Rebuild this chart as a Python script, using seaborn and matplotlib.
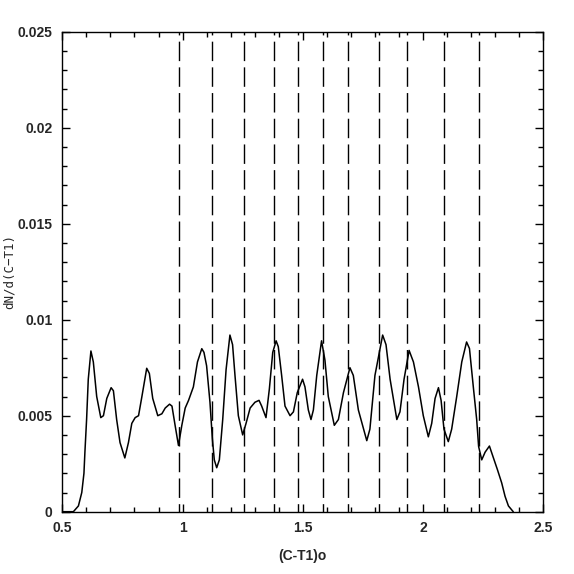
import matplotlib
matplotlib.use("Agg")
import matplotlib.pyplot as plt
import seaborn as sns
import numpy as np
import pandas as pd
from matplotlib.ticker import MultipleLocator, FixedFormatter, FixedLocator

# ---- data ----
color_x = [0.500, 0.546, 0.567, 0.581, 0.590, 0.594, 0.601, 0.608, 0.619, 0.629, 0.643,
           0.660, 0.671, 0.685, 0.703, 0.7125, 0.726, 0.740, 0.760, 0.775, 0.789,
           0.803, 0.817, 0.831, 0.851, 0.862, 0.876, 0.897, 0.914, 0.928, 0.946,
           0.956, 0.969, 0.983, 0.997, 1.011, 1.025, 1.045, 1.062, 1.080, 1.089,
           1.100, 1.114, 1.124, 1.132, 1.142, 1.153, 1.167, 1.181, 1.197, 1.208,
           1.218, 1.232, 1.250, 1.264, 1.281, 1.301, 1.318, 1.329, 1.347, 1.361,
           1.375, 1.389, 1.398, 1.412, 1.426, 1.447, 1.461, 1.477, 1.499, 1.509,
           1.523, 1.534, 1.544, 1.558, 1.578, 1.592, 1.606, 1.631, 1.648, 1.669,
           1.696, 1.710, 1.731, 1.766, 1.779, 1.800, 1.832, 1.846, 1.863, 1.891,
           1.904, 1.921, 1.942, 1.960, 1.981, 2.001, 2.022, 2.036, 2.050, 2.064,
           2.075, 2.087, 2.105, 2.119, 2.140, 2.161, 2.181, 2.193, 2.209, 2.223,
           2.231, 2.244, 2.258, 2.276, 2.290, 2.309, 2.327, 2.341, 2.355, 2.375]
density = [0.0, 0.0, 0.0003, 0.0010, 0.0020, 0.0031, 0.0048, 0.0069, 0.00837, 0.0078, 0.0060,
           0.0049, 0.0050, 0.0059, 0.00646, 0.0063, 0.0048, 0.0036, 0.0028, 0.0036, 0.0046,
           0.0049, 0.0050, 0.0060, 0.00747, 0.0072, 0.0059, 0.0050, 0.0051, 0.0054, 0.0056,
           0.0055, 0.0045, 0.00345, 0.0045, 0.0054, 0.0058, 0.0065, 0.0078, 0.00849, 0.0083,
           0.0076, 0.0057, 0.0038, 0.0027, 0.00229, 0.0027, 0.0048, 0.0074, 0.0092, 0.0087,
           0.0071, 0.0050, 0.0040, 0.0046, 0.0054, 0.0057, 0.0058, 0.0055, 0.0049, 0.0064,
           0.0083, 0.0089, 0.0086, 0.0071, 0.0055, 0.0050, 0.0052, 0.0062, 0.0069, 0.0065,
           0.0053, 0.0048, 0.0053, 0.0071, 0.0089, 0.0079, 0.0060, 0.0045, 0.0048, 0.0062,
           0.0075, 0.0071, 0.0053, 0.0037, 0.0043, 0.0071, 0.0092, 0.0087, 0.0069, 0.0048,
           0.0052, 0.0069, 0.0084, 0.0078, 0.0065, 0.0050, 0.0039, 0.0046, 0.0059, 0.00646,
           0.0058, 0.0043, 0.00365, 0.0043, 0.0060, 0.0078, 0.00884, 0.0085, 0.0065, 0.0048,
           0.0034, 0.0027, 0.0031, 0.00342, 0.0029, 0.0022, 0.0015, 0.0008, 0.0003, 0.0]
divider_x = [0.984, 1.124, 1.254, 1.381, 1.481, 1.585, 1.689, 1.818, 1.934, 2.088, 2.231]
x_ticks = [0.5, 1.0, 1.5, 2.0, 2.5]
x_tick_labels = ["0.5", "1", "1.5", "2", "2.5"]
y_ticks = [0, 0.005, 0.01, 0.015, 0.02, 0.025]
y_tick_labels = ["0", "0.005", "0.01", "0.015", "0.02", "0.025"]

sns.set_style("ticks")
plt.rcParams['font.family'] = ['Liberation Sans', 'DejaVu Sans']
plt.rcParams['lines.scale_dashes'] = False

fig = plt.figure(figsize=(5.74, 5.74), dpi=100)
ax = fig.add_axes([62.3/574, 1-511.7/574, (543.3-62.3)/574, (511.7-31.7)/574])

df = pd.DataFrame({"x": color_x, "y": density})
sns.lineplot(data=df, x="x", y="y", ax=ax, color="black", linewidth=1.1,
             sort=False, estimator=None)

for xv in divider_x:
    ax.axvline(xv, color="black", linewidth=1.0, linestyle=(8, (14.0, 4.5)))

ax.set_xlim(0.5, 2.5)
ax.set_ylim(0, 0.025)
ax.xaxis.set_major_locator(FixedLocator(x_ticks))
ax.xaxis.set_major_formatter(FixedFormatter(x_tick_labels))
ax.yaxis.set_major_locator(FixedLocator(y_ticks))
ax.yaxis.set_major_formatter(FixedFormatter(y_tick_labels))
ax.xaxis.set_minor_locator(MultipleLocator(0.1))
ax.yaxis.set_minor_locator(MultipleLocator(0.001))
ax.tick_params(which="both", direction="in", top=True, right=True, width=1.0, color="black")
ax.tick_params(which="major", length=6, labelsize=10, pad=7)
ax.tick_params(which="minor", length=3.5)
for lab in ax.get_xticklabels() + ax.get_yticklabels():
    lab.set_fontweight("bold")
for s in ax.spines.values():
    s.set_linewidth(1.0)
    s.set_color("black")

ax.set_xlabel("(C-T1)o", fontsize=10, fontweight="bold", labelpad=10)
ax.set_ylabel("dN/d(C\u2212T1)", fontsize=9, family=["DejaVu Sans Mono"])
ax.yaxis.set_label_coords(-0.096, 0.5)

fig.savefig("out.png", dpi=100, facecolor="white")
